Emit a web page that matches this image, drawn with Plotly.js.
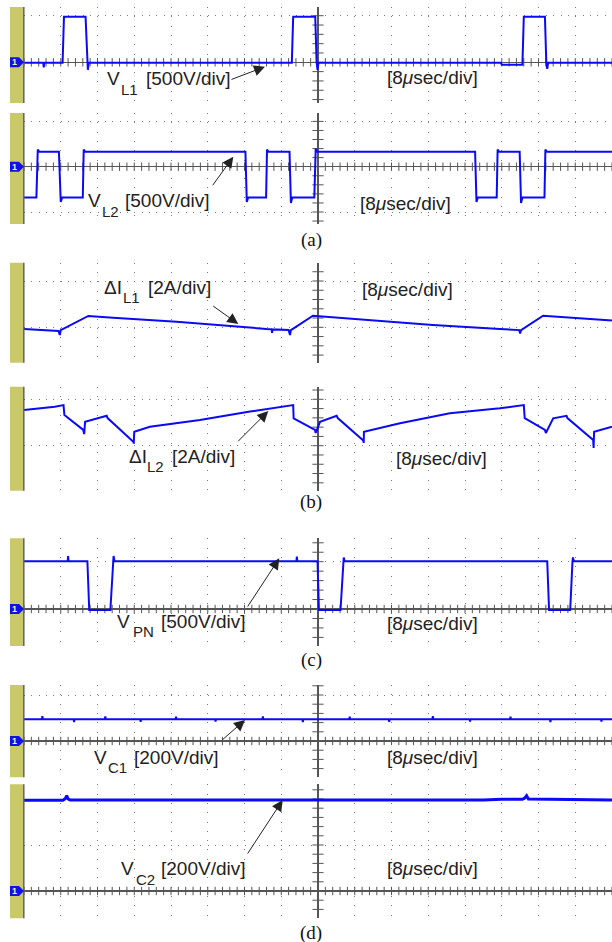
<!DOCTYPE html>
<html><head><meta charset="utf-8">
<script src="https://cdn.plot.ly/plotly-3.0.1.min.js"></script>
<style>html,body{margin:0;padding:0;background:#fff}#chart{width:612px;height:942px}</style>
</head><body><div id="chart"></div>
<script>
// ---------------- data (time in µs, values in V or A) ----------------
const VL1_t = [-64, -59.8, -59.7, -59.6, -55.6, -55.3, -50.6, -50.3, -50.1, -49.9, -5.7, -5.4, -0.6, -0.3, -0.1, 0.1, 39.8, 40.0, 44.5, 44.8, 49.4, 49.7, 49.9, 50.1, 64];
const VL1_v = [-5, -5, -55, -5, -5, 490, 490, -5, -80, -5, -5, 490, 490, -5, -80, -5, -5, -25, -25, 490, 490, -5, -70, -5, -5];

const VL2_t = [-64, -61.3, -61.0, -60.7, -56.4, -56.0, -55.7, -51.2, -51.0, -50.7, -15.8, -15.5, -15.2, -11.3, -11.1, -10.8, -6.2, -5.9, -5.6, -0.8, -0.5, -0.2, 34.2, 34.5, 34.8, 38.9, 39.1, 39.4, 43.9, 44.2, 44.5, 49.3, 49.5, 49.8, 64];
const VL2_v = [-340, -340, 190, 165, 165, -390, -340, -340, 190, 165, 165, -390, -340, -340, 190, 165, 165, -400, -340, -340, 200, 165, 165, -390, -340, -340, 190, 165, 165, -400, -340, -340, 190, 165, 165];

const IL1_t = [-64, -58, -57.3, -56.5, -56.2, -56.0, -50.0, -44.6, -30.8, -18.5, -11.2, -10.1, -10.0, -9.9, -6.4, -6.1, -5.9, -1.1, 13.5, 25.0, 39.6, 43.8, 44.0, 44.2, 49.0, 64];
const IL1_v = [-0.07, -0.12, -0.15, -0.16, -0.33, -0.12, 0.49, 0.41, 0.24, 0.03, -0.07, -0.08, -0.24, -0.09, -0.12, -0.33, -0.12, 0.50, 0.29, 0.10, -0.07, -0.12, -0.27, -0.12, 0.50, 0.29];

const IL2_t = [-64, -60.5, -57.3, -55.4, -55.2, -51.1, -50.9, -50.7, -48.2, -46.0, -45.8, -40.2, -40.1, -40.0, -36.6, -25.7, -14.8, -5.4, -5.3, -0.65, -0.5, 0.44, 4.07, 4.3, 9.86, 9.95, 10.0, 17.85, 28.7, 39.6, 44.8, 45.0, 49.4, 49.6, 51.2, 54.1, 54.3, 59.9, 60.0, 60.1, 64];
const IL2_v = [1.54, 1.61, 1.68, 1.75, 1.32, 0.68, 0.50, 1.03, 1.18, 1.29, 1.19, 0.17, 0.10, 0.60, 0.82, 1.11, 1.47, 1.75, 1.18, 0.68, 0.55, 1.03, 1.29, 1.19, 0.22, 0.12, 0.60, 0.97, 1.40, 1.61, 1.75, 1.19, 0.68, 0.55, 1.18, 1.29, 1.19, 0.25, -0.10, 0.60, 0.82];

const VPN_t = [-64, -54.5, -54.4, -54.3, -50.2, -49.8, -45.2, -44.6, -44.5, -44.3, -4.7, -4.6, -4.5, -0.1, 0.2, 4.9, 5.5, 5.6, 5.8, 49.9, 50.3, 54.9, 55.4, 55.5, 55.7, 64];
const VPN_v = [505, 505, 560, 505, 505, -10, -10, 505, 560, 505, 505, 555, 505, 505, -10, -10, 505, 545, 505, 505, -10, -10, 505, 545, 505, 505];

const VC1_t = [-64, -60.1, -60.0, -59.9, -53.2, -53.1, -53.0, -46.4, -46.3, -46.2, -38.7, -38.6, -38.5, -31.0, -30.9, -30.8, -22.4, -22.3, -22.2, -12.1, -12.0, -11.9, -3.4, -3.3, -3.2, 6.8, 6.9, 7.0, 15.4, 15.5, 15.6, 24.9, 25.0, 25.1, 33.0, 33.1, 33.2, 41.8, 41.9, 42.0, 50.5, 50.6, 50.7, 61.6, 61.7, 61.8, 64];
const VC1_v = [95, 95, 108, 95, 95, 82, 95, 95, 107, 95, 95, 83, 95, 95, 106, 95, 95, 84, 95, 95, 107, 95, 95, 82, 95, 95, 106, 95, 95, 83, 95, 95, 108, 95, 95, 84, 95, 95, 106, 95, 95, 82, 95, 95, 84, 95, 95];

const VC2_t = [-64, -55.5, -55.0, -54.7, -54.4, -54.0, 36.0, 40.0, 44.5, 45.0, 45.4, 45.8, 64];
const VC2_v = [395, 395, 402, 415, 400, 396, 396, 399, 399, 404, 414, 400, 396];

// label texts
const LBL_MAIN = ['V', 'V', 'ΔI', 'ΔI', 'V', 'V', 'V'];
const LBL_SUB = ['L1', 'L2', 'L1', 'L2', 'PN', 'C1', 'C2'];
const LBL_SCALE = ['[500V/div]', '[500V/div]', '[2A/div]', '[2A/div]', '[500V/div]', '[200V/div]', '[200V/div]'];
const TIME_LBL = '[8<i>μ</i>sec/div]';
const CAPTIONS = ['(a)', '(b)', '(c)', '(d)'];

// ---------------- layout geometry ----------------
const W = 612, H = 942;
const BLUE = 'rgb(10,10,245)';
const panels = [
  {t: VL1_t, v: VL1_v, top: 7,     bottom: 103,   zero: 62.3,  pxdiv: 46.6, vpd: 500, axis: true,  lw: 2},
  {t: VL2_t, v: VL2_v, top: 113,   bottom: 224,   zero: 166.7, pxdiv: 45.3, vpd: 500, axis: true,  lw: 2},
  {t: IL1_t, v: IL1_v, top: 262.7, bottom: 362.7, zero: 327.3, pxdiv: 46.3, vpd: 2,   axis: false, lw: 2},
  {t: IL2_t, v: IL2_v, top: 386.7, bottom: 490.7, zero: 445.7, pxdiv: 46.4, vpd: 2,   axis: false, lw: 2},
  {t: VPN_t, v: VPN_v, top: 538.3, bottom: 646,   zero: 609,   pxdiv: 47.3, vpd: 500, axis: true,  lw: 2},
  {t: VC1_t, v: VC1_v, top: 685,   bottom: 777.3, zero: 741,   pxdiv: 46,   vpd: 200, axis: true,  lw: 2},
  {t: VC2_t, v: VC2_v, top: 784.3, bottom: 918.3, zero: 891,   pxdiv: 46,   vpd: 200, axis: true,  lw: 3},
];
// label placement: [mainX, subX, scaleX, capsCenterY, subCenterY, timeX, timeY]
const labelPos = [
  [106,   120,   145,   78.5,  90,    386,   78],
  [87.3,  100.5, 124,   200.5, 212,   359,   204],
  [103,   122,   146.7, 287.5, 297.5, 360.5, 290],
  [128,   146,   170.7, 456.7, 466.5, 395,   458],
  [116,   131.5, 160,   621,   631.5, 386,   623],
  [92.7,  107.3, 133.3, 757,   767.5, 386,   757],
  [120,   135,   160,   868,   879,   386,   868],
];
const captionPos = [[311, 240], [311, 502], [311, 660], [311, 933]];
// arrows: [tailX, tailY, headX, headY]
const arrows = [
  [230, 80, 265, 66.7],
  [211.7, 186.7, 233.3, 156.7],
  [211.7, 305, 238.3, 324],
  [236.7, 442.7, 268.3, 411],
  [246.7, 608, 279.3, 558.3],
  [221, 741, 245, 720],
  [246.7, 855, 282.7, 800],
];

const PX0 = 24;
const px = x => x / W, py = y => 1 - y / H;

const traces = [], shapes = [], annotations = [];
const layout = {
  width: W, height: H, margin: {l: 0, r: 0, t: 0, b: 0},
  paper_bgcolor: '#fff', plot_bgcolor: '#fff', showlegend: false,
};

panels.forEach((p, i) => {
  const n = i === 0 ? '' : String(i + 1);
  const xa = 'x' + n, ya = 'y' + n;
  const yr = [-(p.bottom - p.zero) / p.pxdiv * p.vpd, (p.zero - p.top) / p.pxdiv * p.vpd];
  layout['xaxis' + n] = {
    domain: [px(PX0), 1], range: [-64, 64], anchor: ya,
    showticklabels: false, ticks: '', showline: false,
    showgrid: true, dtick: 8, tick0: 0, gridcolor: '#7a7a7a', gridwidth: 1, griddash: '1px,8.3px',
    zeroline: true, zerolinecolor: '#555', zerolinewidth: 1.5, fixedrange: true,
  };
  layout['yaxis' + n] = {
    domain: [py(p.bottom), py(p.top)], range: yr, anchor: xa,
    showticklabels: false, ticks: '', showline: false,
    showgrid: true, dtick: p.vpd, tick0: 0, gridcolor: '#7a7a7a', gridwidth: 1, griddash: '1px,6.35px',
    zeroline: p.axis, zerolinecolor: '#555', zerolinewidth: 1.5, fixedrange: true,
  };
  // centre-axis tick marks
  const vt = [], vy = [];
  for (let k = Math.ceil(yr[0] / (0.2 * p.vpd)); k * 0.2 * p.vpd <= yr[1]; k++) { vt.push(0); vy.push(k * 0.2 * p.vpd); }
  traces.push({x: vt, y: vy, xaxis: xa, yaxis: ya, mode: 'markers', hoverinfo: 'skip',
    marker: {symbol: 'line-ew-open', size: 8, color: '#555', line: {width: 1, color: '#555'}}});
  if (p.axis) {
    const ht = [], hy = [];
    for (let k = -40; k <= 40; k++) { ht.push(k * 1.6); hy.push(0); }
    traces.push({x: ht, y: hy, xaxis: xa, yaxis: ya, mode: 'markers', hoverinfo: 'skip',
      marker: {symbol: 'line-ns-open', size: 6, color: '#555', line: {width: 1, color: '#555'}}});
  }
  // waveform
  traces.push({x: p.t, y: p.v, xaxis: xa, yaxis: ya, mode: 'lines', hoverinfo: 'skip',
    line: {color: BLUE, width: p.lw}});
  // olive side bar + border
  shapes.push({type: 'rect', xref: 'paper', yref: 'paper', x0: px(10), x1: px(23.3), y0: py(p.bottom), y1: py(p.top),
    fillcolor: '#c9c96a', line: {width: 0}, layer: 'above'});
  shapes.push({type: 'line', xref: 'paper', yref: 'paper', x0: px(23.8), x1: px(23.8), y0: py(p.bottom), y1: py(p.top),
    line: {color: '#606060', width: 1.5}, layer: 'above'});
  if (p.axis) {
    const z = p.zero;
    const path = `M${px(10)},${py(z - 5)} L${px(19)},${py(z - 5)} L${px(24)},${py(z)} L${px(19)},${py(z + 5)} L${px(10)},${py(z + 5)} Z`;
    shapes.push({type: 'path', xref: 'paper', yref: 'paper', path, fillcolor: '#1010e8', line: {width: 0}, layer: 'above'});
    annotations.push({xref: 'paper', yref: 'paper', x: px(14.5), y: py(z), xanchor: 'center', yanchor: 'middle',
      text: '<b>1</b>', showarrow: false, borderpad: 0, font: {family: 'Liberation Sans, Arial', size: 9, color: '#f4f4b0'}});
  }
});

// ---------------- texts ----------------
const TF = {family: 'Liberation Sans, Arial, sans-serif', size: 19, color: '#222'};
const SF = {family: 'Liberation Sans, Arial, sans-serif', size: 15, color: '#222'};
const CF = {family: 'Liberation Serif, Times New Roman, serif', size: 19, color: '#111'};
const addText = (text, x, y, font, xanchor) => annotations.push({xref: 'paper', yref: 'paper', x: px(x), y: py(y),
  xanchor: xanchor || 'left', yanchor: 'middle', text, showarrow: false, font, borderpad: 0});
labelPos.forEach(([mx, sx, rx, cy, scy, tx, ty], i) => {
  addText(LBL_MAIN[i], mx, cy, TF);
  addText(LBL_SUB[i], sx, scy, SF);
  addText(LBL_SCALE[i], rx, cy, TF);
  addText(TIME_LBL, tx, ty, TF);
});
captionPos.forEach(([x, y], i) => addText(CAPTIONS[i], x, y, CF, 'center'));

arrows.forEach(([tx, ty, hx, hy]) => annotations.push({xref: 'paper', yref: 'paper', x: px(hx), y: py(hy),
  ax: tx - hx, ay: ty - hy, text: '', showarrow: true, arrowhead: 2, arrowsize: 2.2, arrowwidth: 1,
  arrowcolor: '#222', standoff: 0}));

layout.shapes = shapes;
layout.annotations = annotations;
Plotly.newPlot('chart', traces, layout, {staticPlot: true, displayModeBar: false});
</script></body></html>
